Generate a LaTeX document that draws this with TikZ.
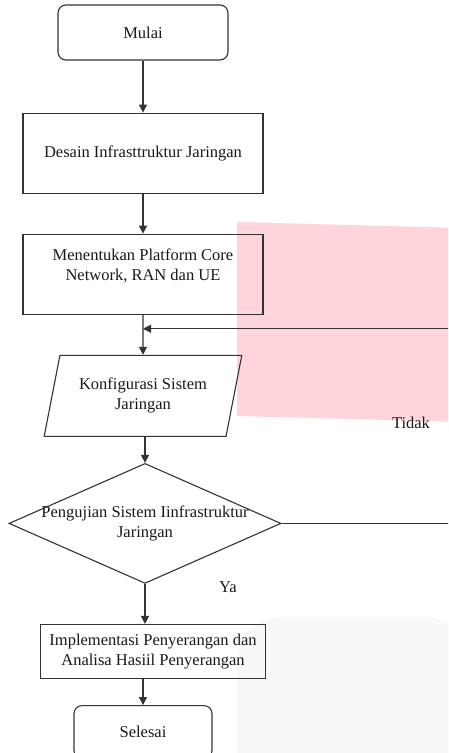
\documentclass[tikz,border=0pt]{standalone}
\usepackage{fontspec}
\setmainfont{Liberation Serif}
\usetikzlibrary{positioning, shapes.geometric, arrows.meta, calc}
\definecolor{rosa}{RGB}{255,212,219}
\definecolor{abu}{RGB}{248,248,248}

\begin{document}
\begin{tikzpicture}[x=1pt, y=-1pt, line width=1.1pt, draw=black!80,
    every node/.style={text=black!90, font=\fontsize{16.5}{20}\selectfont, align=center},
    terminal/.style={draw, rectangle, rounded corners=8pt, minimum width=170pt, minimum height=55pt},
    process/.style={draw, rectangle, minimum width=240pt, minimum height=80pt},
    inout/.style={draw, trapezium, trapezium left angle=71, trapezium right angle=109,
        trapezium stretches=true, minimum width=198pt, minimum height=81pt, inner sep=0pt},
    decision/.style={draw, diamond, minimum width=272pt, minimum height=120pt, inner sep=0pt},
    arrow/.style={-{Triangle[length=8pt, width=8pt]}}]
    \path[use as bounding box, clip] (0,0) rectangle (448,753);

    % background patches
    \fill[rosa] (237,222) -- (460,228) -- (460,422) -- (237,416) -- cycle;
    \fill[abu, rounded corners=45pt] (237,617) -- (470,617) -- (470,800) -- (237,800) -- cycle;

    \node[terminal] (mulai) at (143,32.5) {Mulai};
    \node[process] (desain) [below=52pt of mulai] {Desain Infrasttruktur Jaringan};
    \node[process] (platform) [below=40pt of desain] {Menentukan Platform Core\\Network, RAN dan UE\\ ~};
    \node[inout] (konfig) [below=40pt of platform] {Konfigurasi Sistem\\Jaringan};
    \node[decision] (uji) [below=26pt of konfig, xshift=2pt] {};
    \node (ujitext) at (uji) {Pengujian Sistem Iinfrastruktur\\Jaringan};
    \node[process, minimum width=225pt, minimum height=54pt] (implementasi) [below=40pt of uji, xshift=8pt]
        {Implementasi Penyerangan dan\\Analisa Hasiil Penyerangan};
    \node[terminal, minimum width=138pt, minimum height=53pt] (selesai) [below=26pt of implementasi, xshift=-10pt] {Selesai};

    \draw[arrow] (mulai) -- (desain);
    \draw[arrow] (desain) -- (platform);
    \draw[arrow] (platform) -- (konfig);
    \draw[arrow] (konfig.north -| uji.north) ++(0,81) -- (uji.north);
    \draw[arrow] (uji.south) -- (uji.south |- implementasi.north);
    \draw[arrow] (implementasi.south -| selesai.north) -- (selesai.north);

    % loop back when the test fails
    \coordinate (balik) at ($(platform.south)!0.35!(konfig.north)$);
    \draw[arrow] (uji.east) -- ++(190,0) |- (balik);
    \node (tidak) at (411,423) {Tidak};
    \node (ya) at (228,587) {Ya};
\end{tikzpicture}
\end{document}
